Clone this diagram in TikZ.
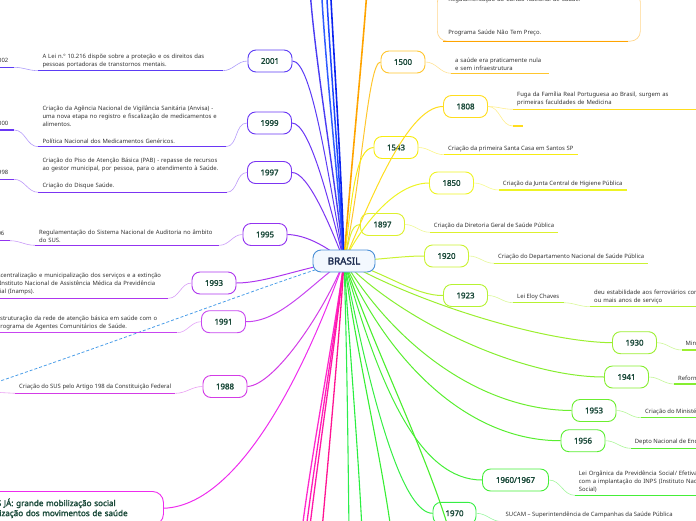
\documentclass[tikz,border=0pt]{standalone}
\usepackage{fontspec}
\setmainfont{Noto Sans}[BoldFont={Noto Sans}, BoldFeatures={FakeBold=2}]
\usetikzlibrary{positioning}
\pgfdeclarelayer{front}
\pgfsetlayers{main,front}
\definecolor{yeartxt}{HTML}{1B4A3A}
\definecolor{notetxt}{HTML}{333333}
\definecolor{hubline}{HTML}{4A8FD6}
\definecolor{hubfill}{HTML}{F3F8FE}
\definecolor{hubtxt}{HTML}{1C2B4F}
\definecolor{relcol}{HTML}{4A9DE8}
\definecolor{c2001}{HTML}{5B3CF5}
\definecolor{c1999}{HTML}{6A37F5}
\definecolor{c1997}{HTML}{7B35F2}
\definecolor{c1995}{HTML}{9334F0}
\definecolor{c1993}{HTML}{AE36EE}
\definecolor{c1991}{HTML}{C745F0}
\definecolor{c1988}{HTML}{D33CE6}
\definecolor{cdiretas}{HTML}{EE2CEE}
\definecolor{cpink1}{HTML}{FF2ACC}
\definecolor{cpink2}{HTML}{FF1CB8}
\definecolor{cpink3}{HTML}{FF18A8}
\definecolor{cpink4}{HTML}{FF1493}
\definecolor{cblue1}{HTML}{4A3CF2}
\definecolor{cblue2}{HTML}{2F5BFF}
\definecolor{cblue3}{HTML}{1E46FF}
\definecolor{cblue4}{HTML}{0A22F0}
\definecolor{corange}{HTML}{FFA400}
\definecolor{c1500}{HTML}{FFC62E}
\definecolor{c1808}{HTML}{FFDD1E}
\definecolor{c1543}{HTML}{F7EC12}
\definecolor{c1850}{HTML}{EEF424}
\definecolor{c1897}{HTML}{DDF02E}
\definecolor{c1920}{HTML}{CBF232}
\definecolor{c1923}{HTML}{B6F232}
\definecolor{c1930}{HTML}{9CEF30}
\definecolor{c1941}{HTML}{86EE30}
\definecolor{c1953}{HTML}{6CEE30}
\definecolor{c1956}{HTML}{58EE30}
\definecolor{c1960}{HTML}{45EE38}
\definecolor{c1970}{HTML}{36EE44}
\definecolor{cgreen1}{HTML}{2CEE4C}
\definecolor{cgreen2}{HTML}{2AEE40}
\definecolor{cgreen3}{HTML}{38EE34}
\definecolor{cgreen4}{HTML}{4AEE2E}
\begin{document}
\begin{tikzpicture}[x=1pt,y=-1pt,
    year/.style={draw=#1, fill=white, line width=0.9pt, rounded corners=8pt,
      minimum width=44pt, minimum height=22pt, inner sep=1pt,
      font=\fontsize{7.9}{9}\selectfont\bfseries, text=yeartxt},
    note/.style={anchor=south west, align=left, inner xsep=4pt, inner ysep=3pt,
      font=\fontsize{5.9}{8}\selectfont, text=notetxt},
    stub/.style={anchor=south east, inner xsep=5.5pt, inner ysep=4.5pt,
      font=\fontsize{5.9}{8}\selectfont, text=notetxt},
    link/.style={draw=#1, line width=1pt},
    tie/.style={draw=#1!50, line width=0.6pt},
    ul/.style={draw=#1, line width=1.3pt}]
  \useasboundingbox (0,0) rectangle (696,520);

  \begin{pgfonlayer}{front}
    \node[draw=hubline, fill=hubfill, line width=0.9pt, rounded corners=8pt,
      minimum width=62pt, minimum height=22pt,
      font=\fontsize{9.8}{11}\selectfont\bfseries, text=hubtxt] (brasil) at (344,261) {BRASIL};
  \end{pgfonlayer}

  % left side
  \node[year=c2001] (y2001) at (270,61) {2001};
  \node[note, text width=176pt] (t2001) at (38.3,70.7) {A Lei n.º 10.216 dispõe sobre a proteção e os direitos das\\pessoas portadoras de transtornos mentais.};
  \node[stub] (s2002) at (14,67.3) {2002};
  \node[year=c1999] (y1999) at (269.5,123) {1999};
  \node[note, text width=179pt] (t1999) at (38.3,146.7) {Criação da Agência Nacional de Vigilância Sanitária (Anvisa) -\\uma nova etapa no registro e fiscalização de medicamentos e\\alimentos.\\[9.3pt]Política Nacional dos Medicamentos Genéricos.};
  \node[stub] (s2000) at (14,130) {2000};
  \node[year=c1997] (y1997) at (269.5,172.5) {1997};
  \node[note, text width=180pt] (t1997) at (38.3,192.3) {Criação do Piso de Atenção Básica (PAB) - repasse de recursos\\ao gestor municipal, por pessoa, para o atendimento à Saúde.\\[9.3pt]Criação do Disque Saúde.};
  \node[stub] (s1998) at (14,179.3) {1998};
  \node[year=c1995] (y1995) at (265,234.5) {1995};
  \node[note, text width=176pt] (t1995) at (35,245.3) {Regulamentação do Sistema Nacional de Auditoria no âmbito\\do SUS.};
  \node[stub] (s2006) at (10,240.7) {2006};
  \node[year=c1993] (y1993) at (214,283) {1993};
  \node[note, text width=174pt] (t1993) at (-14,298.3) {Descentralização e municipalização dos serviços e a extinção\\do Instituto Nacional de Assistência Médica da Previdência\\Social (Inamps).};
  \node[year=c1991] (y1991) at (223.5,321.7) {1991};
  \node[note, text width=176pt] (t1991) at (-7.3,332.7) {Estruturação da rede de atenção básica em saúde com o\\Programa de Agentes Comunitários de Saúde.};
  \node[year=c1988] (y1988) at (225,386.5) {1988};
  \node[note] (t1988) at (15,393.3) {Criação do SUS pelo Artigo 198 da Constituição Federal};
  \coordinate (w1988) at (-10,392);
  \node[draw=cdiretas, fill=white, line width=0.9pt, rounded corners=11pt, anchor=north west,
    align=left, inner xsep=6pt, inner ysep=7pt, text width=188pt,
    font=\fontsize{8.1}{10}\selectfont\bfseries, text=yeartxt] (diretas) at (-37,491)
    {DIRETAS JÁ: grande mobilização social\\e organização dos movimentos de saúde};

  % right side
  \node[note, draw=corange!45, line width=0.7pt, rounded corners=10pt, inner xsep=11pt,
    inner ysep=5pt, text width=181pt] (tcartao) at (437,41.5)
    {Regulamentação do Cartão Nacional de Saúde.\\[25pt]Programa Saúde Não Tem Preço.};
  \node[year=c1500] (y1500) at (403,62) {1500};
  \node[note, text width=90pt] (t1500) at (451,73.3) {a saúde era praticamente nula\\e sem infraestrutura};
  \node[year=c1808] (y1808) at (465.5,106.5) {1808};
  \node[note, text width=180pt] (t1808) at (513,109.3) {Fuga da Família Real Portuguesa ao Brasil, surgem as\\primeiras faculdades de Medicina};
  \node[note, minimum width=10pt] (e1808) at (513,126) {};
  \node[year=c1543] (y1543) at (396,147.5) {1543};
  \node[note] (t1543) at (444,154.7) {Criação da primeira Santa Casa em Santos SP};
  \node[year=c1850] (y1850) at (451.5,183) {1850};
  \node[note] (t1850) at (498.7,190) {Criação da Junta Central de Higiene Pública};
  \node[year=c1897] (y1897) at (382.5,224.5) {1897};
  \node[note] (t1897) at (429.7,232.3) {Criação da Diretoria Geral de Saúde Pública};
  \node[year=c1920] (y1920) at (446.5,256) {1920};
  \node[note] (t1920) at (494,263.3) {Criação do Departamento Nacional de Saúde Pública};
  \node[year=c1923] (y1923) at (465.5,295.5) {1923};
  \node[note] (t1923a) at (513,302.7) {Lei Eloy Chaves};
  \node[note, text width=160pt] (t1923b) at (590,306.7) {deu estabilidade aos ferroviários com 10\\ou mais anos de serviço};
  \node[year=c1930] (y1930) at (634.5,342.7) {1930};
  \node[note] (t1930) at (681.5,350) {Ministério da Educação e Saúde Pública};
  \node[year=c1941] (y1941) at (626.5,377) {1941};
  \node[note] (t1941) at (674,384) {Reforma Barros Barreto};
  \node[year=c1953] (y1953) at (594,410.5) {1953};
  \node[note] (t1953) at (641,417.7) {Criação do Ministério da Saúde};
  \node[year=c1956] (y1956) at (583,440.7) {1956};
  \node[note] (t1956) at (630.7,448.3) {Depto Nacional de Endemias Rurais};
  \node[year=c1960, minimum width=66pt] (y1960) at (515.5,480) {1960/1967};
  \node[note, text width=220pt] (t1960) at (574.7,495.3) {Lei Orgânica da Previdência Social/ Efetivada\\com a implantação do INPS (Instituto Nacional de Previdência\\Social)};
  \node[year=c1970, minimum width=43pt] (y1970) at (454.5,513.3) {1970};
  \node[note] (t1970) at (501.5,521.5) {SUCAM – Superintendência de Campanhas da Saúde Pública};

  \coordinate (up1) at (310,-10);
  \coordinate (up2) at (321.5,-10);
  \coordinate (up3) at (326.5,-10);
  \coordinate (up4) at (330.5,-10);
  \coordinate (up5) at (367,-10);
  \coordinate (dn1) at (302,530);
  \coordinate (dn2) at (306,530);
  \coordinate (dn3) at (309.5,530);
  \coordinate (dn4) at (322,530);
  \coordinate (dn5) at (349,530);
  \coordinate (dn6) at (362,530);
  \coordinate (dn7) at (391,530);
  \coordinate (dn8) at (449,530);
  \coordinate (relend) at (-10,384.5);

  % hub links
  \draw[link=cblue1, line width=1.4pt] (brasil.center) .. controls (335,180) and (315,60) .. (up1);
  \draw[link=cblue2, line width=1.5pt] (brasil.center) .. controls (338,180) and (325,60) .. (up2);
  \draw[link=cblue3, line width=1.5pt] (brasil.center) .. controls (340,180) and (330,60) .. (up3);
  \draw[link=cblue4, line width=1.6pt] (brasil.center) .. controls (342,180) and (334,60) .. (up4);
  \draw[link=corange, line width=1.6pt] (brasil.center) .. controls (350,180) and (362,60) .. (up5);
  \draw[link=c2001] (y2001.east) .. controls (312,61) and (328,175) .. (brasil.center);
  \draw[link=c1999] (y1999.east) .. controls (310,123) and (330,205) .. (brasil.center);
  \draw[link=c1997] (y1997.east) .. controls (308,172) and (330,225) .. (brasil.center);
  \draw[link=c1995] (y1995.east) .. controls (305,235) and (325,245) .. (brasil.center);
  \draw[link=c1993] (y1993.east) .. controls (265,283) and (300,268) .. (brasil.center);
  \draw[link=c1991] (y1991.east) .. controls (280,322) and (310,285) .. (brasil.center);
  \draw[link=c1988] (y1988.east) .. controls (275,385) and (325,310) .. (brasil.center);
  \draw[link=cdiretas] (diretas.east) .. controls (250,505) and (320,330) .. (brasil.center);
  \draw[link=cpink1, line width=1.3pt] (brasil.center) .. controls (335,330) and (312,450) .. (dn1);
  \draw[link=cpink2, line width=1.3pt] (brasil.center) .. controls (336,330) and (316,450) .. (dn2);
  \draw[link=cpink3, line width=1.3pt] (brasil.center) .. controls (337,330) and (319,450) .. (dn3);
  \draw[link=cpink4, line width=1.3pt] (brasil.center) .. controls (340,330) and (329,450) .. (dn4);
  \draw[link=c1500] (brasil.center) .. controls (362,180) and (368,62) .. (y1500.west);
  \draw[link=c1808] (brasil.center) .. controls (365,215) and (405,106) .. (y1808.west);
  \draw[link=c1543] (brasil.center) .. controls (352,200) and (355,148) .. (y1543.west);
  \draw[link=c1850] (brasil.center) .. controls (362,225) and (395,183) .. (y1850.west);
  \draw[link=c1897] (brasil.center) .. controls (350,240) and (350,225) .. (y1897.west);
  \draw[link=c1920] (brasil.center) .. controls (380,260) and (400,256) .. (y1920.west);
  \draw[link=c1923] (brasil.center) .. controls (385,272) and (415,296) .. (y1923.west);
  \draw[link=c1930] (brasil.center) .. controls (410,300) and (540,342) .. (y1930.west);
  \draw[link=c1941] (brasil.center) .. controls (400,320) and (520,377) .. (y1941.west);
  \draw[link=c1953] (brasil.center) .. controls (395,345) and (480,410) .. (y1953.west);
  \draw[link=c1956] (brasil.center) .. controls (390,365) and (470,441) .. (y1956.west);
  \draw[link=c1960] (brasil.center) .. controls (380,390) and (420,480) .. (y1960.west);
  \draw[link=c1970] (brasil.center) .. controls (375,420) and (405,513) .. (y1970.west);
  \draw[link=cgreen1, line width=1.1pt] (brasil.center) .. controls (347,350) and (348,450) .. (dn5);
  \draw[link=cgreen2, line width=1.1pt] (brasil.center) .. controls (350,350) and (358,450) .. (dn6);
  \draw[link=cgreen3, line width=1.1pt] (brasil.center) .. controls (356,350) and (380,450) .. (dn7);
  \draw[link=cgreen4, line width=1.1pt] (brasil.center) .. controls (375,350) and (425,450) .. (dn8);
  \draw[relcol, line width=0.8pt, dash pattern=on 3pt off 2pt] (brasil.center) .. controls (290,276) and (150,330) .. (relend);

  % ties and underlines
  \draw[tie=c2001] (y2001.west) to[out=180,in=0] (t2001.south east);
  \draw[tie=c2001] (t2001.south west) to[out=180,in=0] (s2002.south east);
  \draw[tie=c1999] (y1999.west) to[out=180,in=0] (t1999.south east);
  \draw[tie=c1999] (t1999.south west) to[out=180,in=0] (s2000.south east);
  \draw[tie=c1997] (y1997.west) to[out=180,in=0] (t1997.south east);
  \draw[tie=c1997] (t1997.south west) to[out=180,in=0] (s1998.south east);
  \draw[tie=c1995] (y1995.west) to[out=180,in=0] (t1995.south east);
  \draw[tie=c1995] (t1995.south west) to[out=180,in=0] (s2006.south east);
  \draw[tie=c1993] (y1993.west) to[out=180,in=0] (t1993.south east);
  \draw[tie=c1991] (y1991.west) to[out=180,in=0] (t1991.south east);
  \draw[tie=c1988] (y1988.west) to[out=180,in=0] (t1988.south east);
  \draw[tie=c1988] (t1988.south west) -- (w1988);
  \draw[ul=c2001] (t2001.south west) -- (t2001.south east);
  \draw[ul=c2001] (s2002.south west) -- (s2002.south east);
  \draw[ul=c1999] (t1999.south west) -- (t1999.south east);
  \draw[ul=c1999] (s2000.south west) -- (s2000.south east);
  \draw[ul=c1997] (t1997.south west) -- (t1997.south east);
  \draw[ul=c1997] (s1998.south west) -- (s1998.south east);
  \draw[ul=c1995] (t1995.south west) -- (t1995.south east);
  \draw[ul=c1995] (s2006.south west) -- (s2006.south east);
  \draw[ul=c1993] (t1993.south west) -- (t1993.south east);
  \draw[ul=c1991] (t1991.south west) -- (t1991.south east);
  \draw[ul=c1988] (t1988.south west) -- (t1988.south east);

  \draw[ul=corange] ([xshift=6pt]tcartao.south west) -- ([xshift=-13pt]tcartao.south east);
  \draw[tie=c1500] (y1500.east) to[out=0,in=180] (t1500.south west);
  \draw[tie=c1808] (y1808.east) to[out=0,in=180] (t1808.south west);
  \draw[tie=c1808] (y1808.east) to[out=0,in=180] (e1808.south west);
  \draw[tie=c1543] (y1543.east) to[out=0,in=180] (t1543.south west);
  \draw[tie=c1850] (y1850.east) to[out=0,in=180] (t1850.south west);
  \draw[tie=c1897] (y1897.east) to[out=0,in=180] (t1897.south west);
  \draw[tie=c1920] (y1920.east) to[out=0,in=180] (t1920.south west);
  \draw[tie=c1923] (y1923.east) to[out=0,in=180] (t1923a.south west);
  \draw[tie=c1923] (t1923a.south east) to[out=0,in=180] (t1923b.south west);
  \draw[tie=c1930] (y1930.east) to[out=0,in=180] (t1930.south west);
  \draw[tie=c1941] (y1941.east) to[out=0,in=180] (t1941.south west);
  \draw[tie=c1953] (y1953.east) to[out=0,in=180] (t1953.south west);
  \draw[tie=c1956] (y1956.east) to[out=0,in=180] (t1956.south west);
  \draw[tie=c1960] (y1960.east) to[out=0,in=180] (t1960.south west);
  \draw[tie=c1970] (y1970.east) to[out=0,in=180] (t1970.south west);
  \draw[ul=c1500] (t1500.south west) -- (t1500.south east);
  \draw[ul=c1808] (t1808.south west) -- (t1808.south east);
  \draw[ul=c1808] (e1808.south west) -- (e1808.south east);
  \draw[ul=c1543] (t1543.south west) -- (t1543.south east);
  \draw[ul=c1850] (t1850.south west) -- (t1850.south east);
  \draw[ul=c1897] (t1897.south west) -- (t1897.south east);
  \draw[ul=c1920] (t1920.south west) -- (t1920.south east);
  \draw[ul=c1923] (t1923a.south west) -- (t1923a.south east);
  \draw[ul=c1923] (t1923b.south west) -- (t1923b.south east);
  \draw[ul=c1930] (t1930.south west) -- (t1930.south east);
  \draw[ul=c1941] (t1941.south west) -- (t1941.south east);
  \draw[ul=c1953] (t1953.south west) -- (t1953.south east);
  \draw[ul=c1956] (t1956.south west) -- (t1956.south east);
  \draw[ul=c1960] (t1960.south west) -- (t1960.south east);
  \draw[ul=c1970] (t1970.south west) -- (t1970.south east);
\end{tikzpicture}
\end{document}
